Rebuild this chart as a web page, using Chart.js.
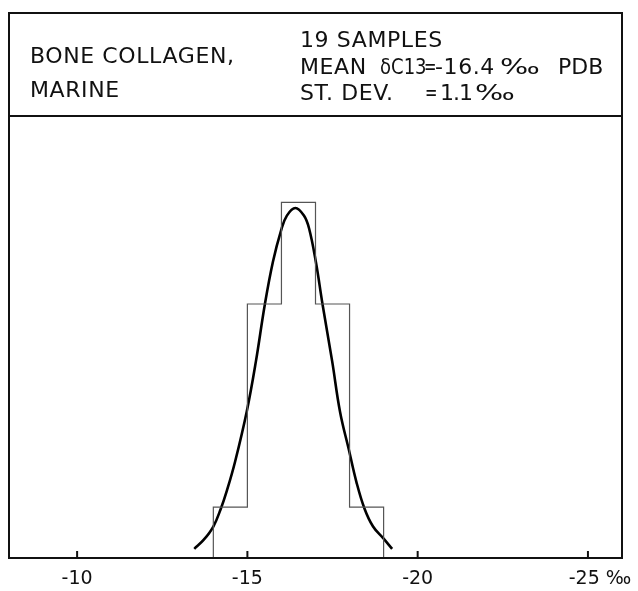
<!DOCTYPE html>
<html>
<head>
<meta charset="utf-8">
<script src="https://cdn.jsdelivr.net/npm/chart.js@4"></script>
<style>
  html, body { margin: 0; padding: 0; background: #fff; }
  #wrap { position: relative; width: 638px; height: 591px; }
  #wrap canvas { display: block; }
  .hdr {
    position: absolute;
    font-family: "DejaVu Sans", sans-serif;
    font-size: 22px;
    line-height: 22px;
    letter-spacing: 0.6px;
    color: #111;
    white-space: pre;
  }
  .narrow { transform: scaleX(0.82); transform-origin: left center; letter-spacing: 0; }
  .eq { font-family: "DejaVu Sans Condensed", "DejaVu Sans", sans-serif; transform: scaleX(0.75); transform-origin: left center; }
  .pm { transform: scaleX(1.35); transform-origin: left center; letter-spacing: 0; }
</style>
</head>
<body>
<div id="wrap">
  <canvas id="chart" width="638" height="591"></canvas>
  <div class="hdr" style="left:30px; top:45px;">BONE COLLAGEN,</div>
  <div class="hdr" style="left:30px; top:79px;">MARINE</div>
  <div class="hdr" style="left:300px; top:29px;">19 SAMPLES</div>
  <div class="hdr" style="left:300px; top:56px;">MEAN</div>
  <div class="hdr narrow" style="left:380px; top:56px;">δC13</div>
  <div class="hdr eq" style="left:424px; top:56px;">=</div>
  <div class="hdr" style="left:435px; top:56px;">-16.4</div>
  <div class="hdr pm" style="left:500px; top:56px;">‰</div>
  <div class="hdr" style="left:558px; top:56px; letter-spacing:0;">PDB</div>
  <div class="hdr" style="left:300px; top:82px;">ST. DEV.</div>
  <div class="hdr eq" style="left:425px; top:82px;">=</div>
  <div class="hdr" style="left:440px; top:82px; letter-spacing:-1px;">1.1</div>
  <div class="hdr pm" style="left:475px; top:82px;">‰</div>
</div>
<script>
// histogram bins (delta C13, per mille) and sample counts
const binEdges = [-14, -15, -16, -17, -18, -19];
const binCounts = [1, 5, 7, 5, 1];

// fitted curve
const curveX = [-13.44, -13.72, -14.0, -14.22, -14.4, -14.64, -14.98, -15.25, -15.51, -15.75, -15.99, -16.16, -16.41, -16.66, -16.81, -17.01, -17.21, -17.49, -17.72, -17.98, -18.2, -18.44, -18.69, -19.0, -19.25];
const curveY = [0.18, 0.36, 0.62, 0.97, 1.33, 1.9, 2.88, 3.87, 4.98, 5.83, 6.45, 6.74, 6.89, 6.74, 6.49, 5.83, 4.98, 3.87, 2.88, 2.13, 1.5, 0.97, 0.62, 0.38, 0.18];

// x axis ticks
const tickValues = [-10, -15, -20, -25];
const tickLabels = ['-10', '-15', '-20', '    -25 ‰'];

// outline of the histogram as one stepped line
const histPoints = [{ x: binEdges[0], y: 0 }];
binCounts.forEach((c, i) => histPoints.push({ x: binEdges[i], y: c }));
histPoints.push({ x: binEdges[binEdges.length - 1], y: binCounts[binCounts.length - 1] });
histPoints.push({ x: binEdges[binEdges.length - 1], y: 0 });

const curvePoints = curveX.map((x, i) => ({ x: x, y: curveY[i] }));

// frame, header rule and inward tick marks
const framePlugin = {
  id: 'frame',
  afterDraw(chart) {
    const ctx = chart.ctx;
    const area = chart.chartArea;
    const xs = chart.scales.x;
    const ys = chart.scales.y;
    ctx.save();
    ctx.strokeStyle = '#111';
    ctx.lineWidth = 2;
    ctx.strokeRect(area.left, 13, area.right - area.left, area.bottom - 13);
    ctx.beginPath();
    ctx.moveTo(area.left, area.top);
    ctx.lineTo(area.right, area.top);
    ctx.stroke();
    const y0 = ys.getPixelForValue(0);
    tickValues.forEach(v => {
      const px = xs.getPixelForValue(v);
      ctx.beginPath();
      ctx.moveTo(px, y0);
      ctx.lineTo(px, y0 - 7);
      ctx.stroke();
    });
    ctx.restore();
  }
};

new Chart(document.getElementById('chart'), {
  type: 'line',
  data: {
    datasets: [
      {
        label: 'histogram',
        data: histPoints,
        stepped: 'before',
        borderColor: '#555',
        borderWidth: 1.2,
        pointRadius: 0,
        fill: false
      },
      {
        label: 'normal curve',
        data: curvePoints,
        borderColor: '#000',
        borderWidth: 2.6,
        tension: 0.4,
        pointRadius: 0,
        fill: false
      }
    ]
  },
  options: {
    responsive: false,
    devicePixelRatio: 1,
    animation: false,
    layout: { padding: { left: 9, right: 16, top: 116, bottom: 0 } },
    plugins: { legend: { display: false }, tooltip: { enabled: false } },
    scales: {
      x: {
        type: 'linear',
        min: -26,
        max: -8,
        reverse: true,
        grid: { display: false, drawTicks: false },
        border: { display: false },
        afterBuildTicks: axis => { axis.ticks = tickValues.map(v => ({ value: v })); },
        afterFit: s => { s.height = 33; s.paddingLeft = 0; s.paddingRight = 0; },
        ticks: {
          autoSkip: false,
          maxRotation: 0,
          padding: 10,
          color: '#111',
          font: { family: 'DejaVu Sans', size: 19 },
          callback: v => tickLabels[tickValues.indexOf(v)]
        }
      },
      y: {
        display: false,
        min: 0,
        max: 8.7
      }
    }
  },
  plugins: [framePlugin]
});
</script>
</body>
</html>
